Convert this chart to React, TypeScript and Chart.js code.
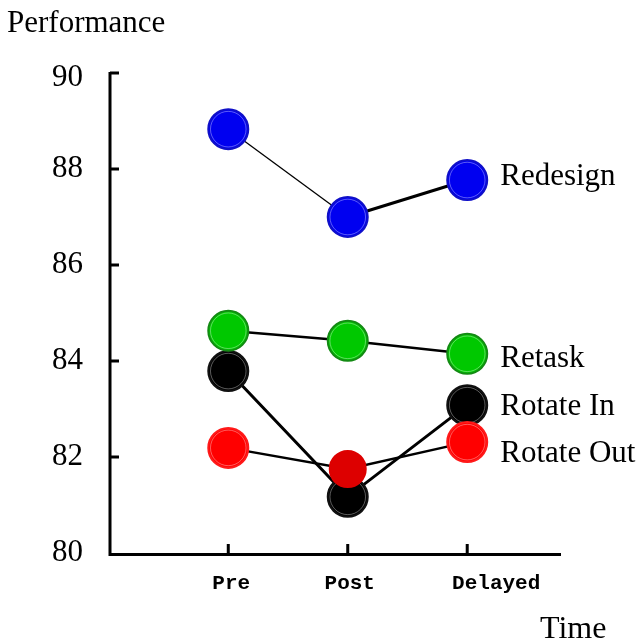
import React, { useEffect, useRef } from "react";
import { Chart, registerables } from "chart.js";

Chart.register(...registerables);

const categories = ["Pre", "Post", "Delayed"];
const seriesNames = ["Retask", "Rotate Out", "Rotate In", "Redesign"];
const retask = [84.63, 84.42, 84.15];
const rotateOut = [82.19, 81.75, 82.31];
const rotateIn = [83.79, 81.17, 83.08];
const redesign = [88.83, 87.0, 87.77];
const labelAnchors = [84.08, 82.1, 83.08, 87.875];
const yTicks = [80, 82, 84, 86, 88, 90];

const toXY = (vals: number[]) => vals.map((v, i) => ({ x: i, y: v }));

// small pixel nudges of category labels, as in the original rendering
const xLabelNudge = [3, 2, 29];

const annotate = {
  id: "annotate",
  beforeDatasetsDraw(chart: any) {
    const { ctx, chartArea, scales } = chart;
    const xs = scales.x;
    const ys = scales.y;
    ctx.save();
    ctx.strokeStyle = "#000";
    ctx.lineWidth = 3;
    ctx.lineCap = "butt";
    ctx.beginPath();
    ctx.moveTo(chartArea.left, chartArea.top - 1);
    ctx.lineTo(chartArea.left, chartArea.bottom + 1.5);
    ctx.lineTo(chartArea.right, chartArea.bottom + 1.5);
    ctx.stroke();
    ctx.beginPath();
    yTicks.slice(1).forEach((t) => {
      const y = ys.getPixelForValue(t);
      ctx.moveTo(chartArea.left, y);
      ctx.lineTo(chartArea.left + 9, y);
    });
    categories.forEach((_, i) => {
      const x = xs.getPixelForValue(i);
      ctx.moveTo(x, chartArea.bottom);
      ctx.lineTo(x, chartArea.bottom - 9);
    });
    ctx.stroke();

    ctx.fillStyle = "#000";
    ctx.font = "31px 'Liberation Serif'";
    ctx.textAlign = "right";
    ctx.textBaseline = "middle";
    yTicks.forEach((t, i) => {
      const y = ys.getPixelForValue(t) + (i === yTicks.length - 1 ? 5 : 0);
      ctx.fillText(String(t), chartArea.left - 27, y);
    });
    ctx.font = "bold 21px 'Liberation Mono'";
    ctx.textAlign = "center";
    ctx.textBaseline = "alphabetic";
    categories.forEach((c, i) => {
      ctx.fillText(c, xs.getPixelForValue(i) + xLabelNudge[i], chartArea.bottom + 36);
    });
    ctx.restore();
  },
  afterDatasetDraw(chart: any, args: any) {
    const { ctx } = chart;
    const meta = args.meta;
    const ds = chart.data.datasets[args.index];
    ctx.save();
    ctx.lineWidth = 0.8;
    meta.data.forEach((pt: any, j: number) => {
      const r = Array.isArray(ds.pointRadius) ? ds.pointRadius[j] : ds.pointRadius;
      if (ds.noRing && ds.noRing[j]) return;
      ctx.strokeStyle = "rgba(255,255,255,0.45)";
      ctx.beginPath();
      ctx.arc(pt.x, pt.y, r - 2.2, 0, Math.PI * 2);
      ctx.stroke();
    });
    ctx.restore();
  },
  afterDatasetsDraw(chart: any) {
    const { ctx, scales } = chart;
    const xs = scales.x;
    const ys = scales.y;
    ctx.save();
    ctx.fillStyle = "#000";
    ctx.font = "31px 'Liberation Serif'";
    ctx.textBaseline = "alphabetic";
    ctx.textAlign = "left";
    const lx = xs.getPixelForValue(categories.length - 1) + 33;
    seriesNames.forEach((name, i) => {
      ctx.fillText(name, lx, ys.getPixelForValue(labelAnchors[i]) + 10);
    });
    ctx.fillText("Performance", 7, 32);
    ctx.font = "32px 'Liberation Serif'";
    ctx.fillText("Time", 540, 638);
    ctx.restore();
  },
};

export default function App() {
  const ref = useRef<HTMLCanvasElement>(null);
  useEffect(() => {
    if (!ref.current) return;
    const common = {
      showLine: true,
      borderColor: "#000",
      fill: false,
      tension: 0,
      clip: false as any,
      pointBorderWidth: 2,
      pointRadius: 20,
    };
    const chart = new Chart(ref.current, {
      type: "scatter",
      data: {
        datasets: [
          {
            ...common,
            label: seriesNames[0],
            data: toXY(retask),
            borderWidth: 2.5,
            pointBackgroundColor: "#00c800",
            pointBorderColor: "#138a13",
            order: 0,
          },
          {
            ...common,
            label: seriesNames[1],
            data: toXY(rotateOut),
            borderWidth: 2.5,
            pointBackgroundColor: ["#ff0000", "#dd0000", "#ff0000"],
            pointBorderColor: ["#ff1a1a", "#dd0000", "#ff1a1a"],
            pointRadius: [20, 18, 20],
            noRing: [false, true, false],
            order: 1,
          } as any,
          {
            ...common,
            label: seriesNames[2],
            data: toXY(rotateIn),
            borderWidth: 3,
            pointBackgroundColor: "#000000",
            pointBorderColor: "#111111",
            order: 2,
          },
          {
            ...common,
            label: seriesNames[3],
            data: toXY(redesign),
            borderWidth: 3,
            segment: {
              borderWidth: (c: any) => (c.p0DataIndex === 0 ? 1.3 : 3),
            },
            pointBackgroundColor: "#0000f0",
            pointBorderColor: "#1010c8",
            order: 3,
          },
        ],
      },
      options: {
        animation: false,
        responsive: false,
        devicePixelRatio: 1,
        layout: { padding: { top: 73, right: 81, left: 0, bottom: 0 } },
        plugins: { legend: { display: false }, tooltip: { enabled: false } },
        scales: {
          x: {
            type: "linear",
            min: -0.99,
            max: 2.785,
            grid: { display: false, drawTicks: false },
            border: { display: false },
            afterFit: (s: any) => {
              s.height = 90;
            },
            afterBuildTicks: (s: any) => {
              s.ticks = categories.map((_, i) => ({ value: i }));
            },
            ticks: { display: false },
          },
          y: {
            min: 80,
            max: 90,
            grid: { display: false, drawTicks: false },
            border: { display: false },
            afterFit: (s: any) => {
              s.width = 110;
            },
            afterBuildTicks: (s: any) => {
              s.ticks = yTicks.map((v) => ({ value: v }));
            },
            ticks: { display: false },
          },
        },
      },
      plugins: [annotate],
    });
    return () => chart.destroy();
  }, []);
  return (
    <div style={{ position: "absolute", left: 0, top: 0, width: 642, height: 643, background: "#fff" }}>
      <canvas ref={ref} width={642} height={643} style={{ width: 642, height: 643 }} />
    </div>
  );
}
